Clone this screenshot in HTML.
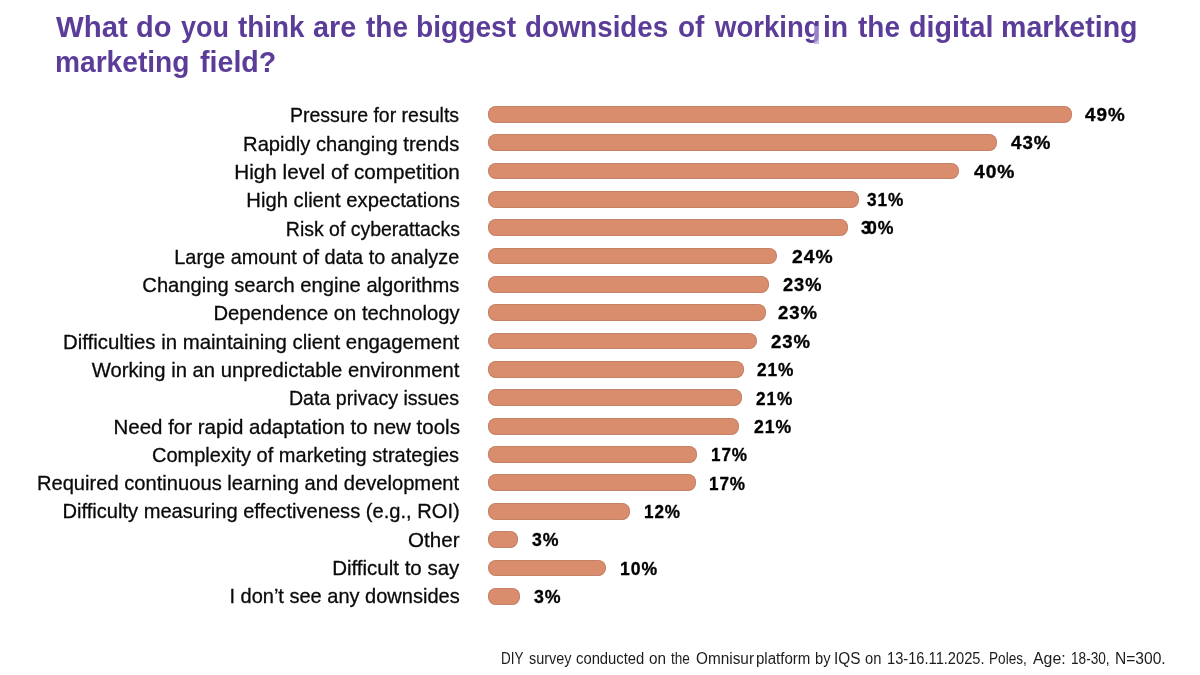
<!DOCTYPE html>
<html><head><meta charset="utf-8"><style>
html,body{margin:0;padding:0;background:#fff;}
body{width:1200px;height:675px;overflow:hidden;position:relative;filter:blur(0.3px);font-family:"Liberation Sans",sans-serif;}
.tw{position:absolute;font-size:29px;line-height:36px;font-weight:bold;color:#5b3d99;white-space:nowrap;transform-origin:0 50%;}
.bar{position:absolute;left:488px;height:16.8px;border-radius:8px;background:#d98d6d;box-shadow:inset 0 0 0 0.8px rgba(150,100,80,0.4);}
.lbl{position:absolute;right:740.5px;font-size:21px;line-height:24px;color:#0a0a0a;white-space:nowrap;-webkit-text-stroke:0.3px #0a0a0a;}
.lbl span{display:inline-block;transform-origin:100% 50%;}
.pct{position:absolute;font-size:19px;line-height:24px;font-weight:bold;color:#000;white-space:nowrap;letter-spacing:1px;-webkit-text-stroke:0.35px #000;transform-origin:0 50%;}
.fw{position:absolute;top:648.96px;font-size:16px;line-height:20px;color:#1c1c1c;white-space:nowrap;transform-origin:0 50%;}
</style></head><body>
<div class="tw" style="left:55.50px;top:8.65px;transform:scaleX(1.0141)">What</div>
<div class="tw" style="left:136.00px;top:8.65px;transform:scaleX(1.0000)">do</div>
<div class="tw" style="left:180.50px;top:8.65px;transform:scaleX(0.9300)">you</div>
<div class="tw" style="left:237.80px;top:8.65px;transform:scaleX(0.9594)">think</div>
<div class="tw" style="left:312.81px;top:8.65px;transform:scaleX(0.9929)">are</div>
<div class="tw" style="left:365.50px;top:8.65px;transform:scaleX(0.9643)">the</div>
<div class="tw" style="left:416.06px;top:8.65px;transform:scaleX(0.9703)">biggest</div>
<div class="tw" style="left:525.45px;top:8.65px;transform:scaleX(0.9547)">downsides</div>
<div class="tw" style="left:677.54px;top:8.65px;transform:scaleX(0.9630)">of</div>
<div class="tw" style="left:715.00px;top:8.65px;transform:scaleX(0.9495)">working</div>
<div class="tw" style="left:823.05px;top:8.65px;transform:scaleX(0.9773)">in</div>
<div class="tw" style="left:857.50px;top:8.65px;transform:scaleX(0.9643)">the</div>
<div class="tw" style="left:908.51px;top:8.65px;transform:scaleX(0.9878)">digital</div>
<div class="tw" style="left:1001.03px;top:8.65px;transform:scaleX(0.9852)">marketing</div>
<div class="tw" style="left:55.06px;top:43.55px;transform:scaleX(0.9704)">marketing</div>
<div class="tw" style="left:200.01px;top:43.55px;transform:scaleX(0.9867)">field?</div>
<div style="position:absolute;left:813.5px;top:26px;width:5px;height:17.5px;background:rgba(180,160,222,0.7)"></div>
<div class="bar" style="top:105.80px;width:583.70px"></div>
<div class="bar" style="top:134.16px;width:508.50px"></div>
<div class="bar" style="top:162.52px;width:470.80px"></div>
<div class="bar" style="top:190.88px;width:371.30px"></div>
<div class="bar" style="top:219.24px;width:360.00px"></div>
<div class="bar" style="top:247.60px;width:289.00px"></div>
<div class="bar" style="top:275.96px;width:280.70px"></div>
<div class="bar" style="top:304.32px;width:277.80px"></div>
<div class="bar" style="top:332.68px;width:269.30px"></div>
<div class="bar" style="top:361.04px;width:255.50px"></div>
<div class="bar" style="top:389.40px;width:254.00px"></div>
<div class="bar" style="top:417.76px;width:251.00px"></div>
<div class="bar" style="top:446.12px;width:208.70px"></div>
<div class="bar" style="top:474.48px;width:207.80px"></div>
<div class="bar" style="top:502.84px;width:141.70px"></div>
<div class="bar" style="top:531.20px;width:29.50px"></div>
<div class="bar" style="top:559.56px;width:118.00px"></div>
<div class="bar" style="top:587.92px;width:31.50px"></div>
<div class="lbl" style="top:103.42px"><span style="transform:scaleX(0.9289)">Pressure for results</span></div>
<div class="lbl" style="top:131.70px"><span style="transform:scaleX(0.9596)">Rapidly changing trends</span></div>
<div class="lbl" style="top:159.98px"><span style="transform:scaleX(0.9858)">High level of competition</span></div>
<div class="lbl" style="top:188.26px"><span style="transform:scaleX(0.9623)">High client expectations</span></div>
<div class="lbl" style="top:216.54px"><span style="transform:scaleX(0.9263)">Risk of cyberattacks</span></div>
<div class="lbl" style="top:244.82px"><span style="transform:scaleX(0.9458)">Large amount of data to analyze</span></div>
<div class="lbl" style="top:273.10px"><span style="transform:scaleX(0.9596)">Changing search engine algorithms</span></div>
<div class="lbl" style="top:301.38px"><span style="transform:scaleX(0.9630)">Dependence on technology</span></div>
<div class="lbl" style="top:329.66px"><span style="transform:scaleX(0.9705)">Difficulties in maintaining client engagement</span></div>
<div class="lbl" style="top:357.94px"><span style="transform:scaleX(0.9641)">Working in an unpredictable environment</span></div>
<div class="lbl" style="top:386.22px"><span style="transform:scaleX(0.9344)">Data privacy issues</span></div>
<div class="lbl" style="top:414.50px"><span style="transform:scaleX(0.9762)">Need for rapid adaptation to new tools</span></div>
<div class="lbl" style="top:442.78px"><span style="transform:scaleX(0.9536)">Complexity of marketing strategies</span></div>
<div class="lbl" style="top:471.06px"><span style="transform:scaleX(0.9593)">Required continuous learning and development</span></div>
<div class="lbl" style="top:499.34px"><span style="transform:scaleX(0.9580)">Difficulty measuring effectiveness (e.g., ROI)</span></div>
<div class="lbl" style="top:527.62px"><span style="transform:scaleX(0.9804)">Other</span></div>
<div class="lbl" style="top:555.90px"><span style="transform:scaleX(0.9758)">Difficult to say</span></div>
<div class="lbl" style="top:584.18px"><span style="transform:scaleX(0.9529)">I don’t see any downsides</span></div>
<div class="pct" style="top:102.92px;left:1085.00px;transform:scaleX(0.9900)">49%</div>
<div class="pct" style="top:131.28px;left:1010.81px;transform:scaleX(0.9846)">43%</div>
<div class="pct" style="top:159.64px;left:973.99px;transform:scaleX(1.0103)">40%</div>
<div class="pct" style="top:188.00px;left:866.66px;transform:scaleX(0.9077)">31%</div>
<div class="pct" style="top:216.36px;left:861.00px;transform:scaleX(0.9286)"><span style="letter-spacing:-4px">3</span>0%</div>
<div class="pct" style="top:244.72px;left:792.40px;transform:scaleX(1.0154)">24%</div>
<div class="pct" style="top:273.08px;left:783.02px;transform:scaleX(0.9590)">23%</div>
<div class="pct" style="top:301.44px;left:778.41px;transform:scaleX(0.9744)">23%</div>
<div class="pct" style="top:329.80px;left:771.21px;transform:scaleX(0.9769)">23%</div>
<div class="pct" style="top:358.16px;left:757.04px;transform:scaleX(0.9103)">21%</div>
<div class="pct" style="top:386.52px;left:755.62px;transform:scaleX(0.9050)">21%</div>
<div class="pct" style="top:414.88px;left:753.65px;transform:scaleX(0.9282)">21%</div>
<div class="pct" style="top:443.24px;left:711.10px;transform:scaleX(0.9000)">17%</div>
<div class="pct" style="top:471.60px;left:709.48px;transform:scaleX(0.9000)">17%</div>
<div class="pct" style="top:499.96px;left:643.72px;transform:scaleX(0.9000)">12%</div>
<div class="pct" style="top:528.32px;left:531.81px;transform:scaleX(0.9321)">3%</div>
<div class="pct" style="top:556.68px;left:620.23px;transform:scaleX(0.9256)">10%</div>
<div class="pct" style="top:585.04px;left:534.00px;transform:scaleX(0.9357)">3%</div>
<div class="fw" style="left:501.41px;transform:scaleX(0.8400)">DIY</div>
<div class="fw" style="left:529.00px;transform:scaleX(0.9022)">survey</div>
<div class="fw" style="left:575.78px;transform:scaleX(0.9250)">conducted</div>
<div class="fw" style="left:649.04px;transform:scaleX(0.9562)">on</div>
<div class="fw" style="left:671.30px;transform:scaleX(0.8500)">the</div>
<div class="fw" style="left:695.74px;transform:scaleX(0.9593)">Omnisur</div>
<div class="fw" style="left:756.36px;transform:scaleX(0.9411)">platform</div>
<div class="fw" style="left:815.08px;transform:scaleX(0.9188)">by</div>
<div class="fw" style="left:834.08px;transform:scaleX(0.9600)">IQS</div>
<div class="fw" style="left:865.08px;transform:scaleX(0.9188)">on</div>
<div class="fw" style="left:887.08px;transform:scaleX(0.9163)">13-16.11.2025.</div>
<div class="fw" style="left:989.15px;transform:scaleX(0.8524)">Poles,</div>
<div class="fw" style="left:1033.30px;transform:scaleX(0.9906)">Age:</div>
<div class="fw" style="left:1070.85px;transform:scaleX(0.8512)">18-30,</div>
<div class="fw" style="left:1115.33px;transform:scaleX(0.9740)">N=300.</div>
</body></html>
